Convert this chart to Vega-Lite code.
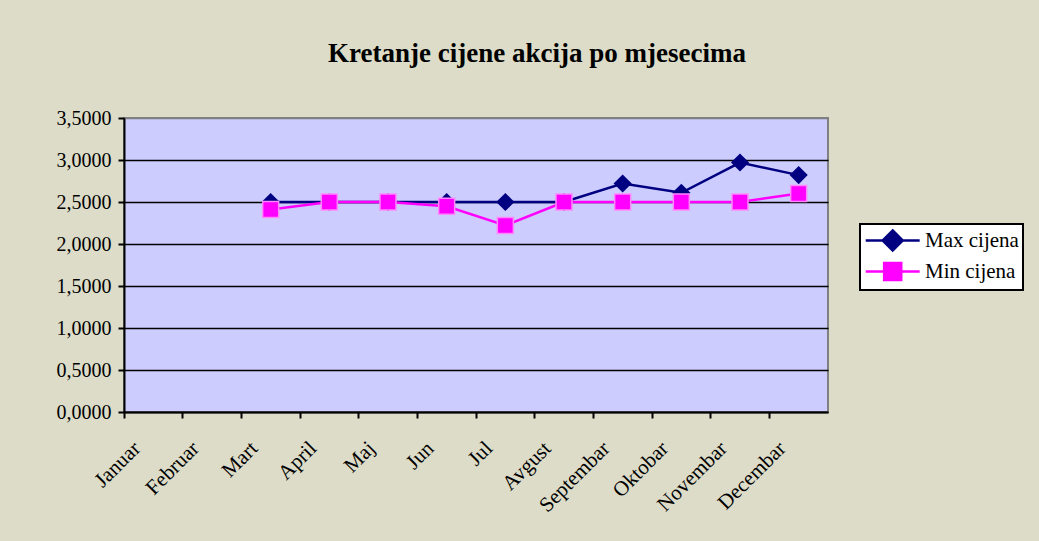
{
  "$schema": "https://vega.github.io/schema/vega-lite/v6.json",
  "autosize": "none",
  "width": 704,
  "height": 294,
  "padding": {"left": 124, "top": 118, "right": 211, "bottom": 129},
  "background": "#DCDCC8",
  "title": {
    "text": "Kretanje cijene akcija po mjesecima",
    "font": "Liberation Serif",
    "fontSize": 27,
    "fontWeight": "bold",
    "color": "#000000",
    "frame": "group",
    "anchor": "middle",
    "dx": 61,
    "offset": 19,
    "baseline": "alphabetic"
  },
  "config": {
    "view": {"fill": "#CCCCFF", "stroke": "#808080", "strokeWidth": 2},
    "axis": {"labelFont": "Liberation Serif", "labelFontSize": 20, "labelColor": "#000000"},
    "legend": {"labelFont": "Liberation Serif", "labelFontSize": 21, "labelColor": "#000000"}
  },
  "data": {
    "values": [
      {"month": "Mart", "series": "Max cijena", "value": 2.5},
      {"month": "April", "series": "Max cijena", "value": 2.5},
      {"month": "Maj", "series": "Max cijena", "value": 2.5},
      {"month": "Jun", "series": "Max cijena", "value": 2.5},
      {"month": "Jul", "series": "Max cijena", "value": 2.5},
      {"month": "Avgust", "series": "Max cijena", "value": 2.5},
      {"month": "Septembar", "series": "Max cijena", "value": 2.72},
      {"month": "Oktobar", "series": "Max cijena", "value": 2.61},
      {"month": "Novembar", "series": "Max cijena", "value": 2.97},
      {"month": "Decembar", "series": "Max cijena", "value": 2.82},
      {"month": "Mart", "series": "Min cijena", "value": 2.41},
      {"month": "April", "series": "Min cijena", "value": 2.5},
      {"month": "Maj", "series": "Min cijena", "value": 2.5},
      {"month": "Jun", "series": "Min cijena", "value": 2.45},
      {"month": "Jul", "series": "Min cijena", "value": 2.22},
      {"month": "Avgust", "series": "Min cijena", "value": 2.5},
      {"month": "Septembar", "series": "Min cijena", "value": 2.5},
      {"month": "Oktobar", "series": "Min cijena", "value": 2.5},
      {"month": "Novembar", "series": "Min cijena", "value": 2.5},
      {"month": "Decembar", "series": "Min cijena", "value": 2.6}
    ]
  },
  "encoding": {
    "x": {
      "field": "month",
      "type": "nominal",
      "bandPosition": 0.5,
      "sort": ["Januar", "Februar", "Mart", "April", "Maj", "Jun", "Jul", "Avgust", "Septembar", "Oktobar", "Novembar", "Decembar"],
      "scale": {
        "type": "band",
        "domain": ["Januar", "Februar", "Mart", "April", "Maj", "Jun", "Jul", "Avgust", "Septembar", "Oktobar", "Novembar", "Decembar"],
        "paddingInner": 0,
        "paddingOuter": 0
      },
      "axis": {
        "title": null,
        "bandPosition": 0,
        "labelAngle": -45,
        "labelAlign": "right",
        "labelBaseline": "middle",
        "labelOffset": -16,
        "labelPadding": 27,
        "labelFontSize": 21,
        "tickSize": 6,
        "tickWidth": 2,
        "tickColor": "#000000",
        "domainColor": "#000000",
        "domainWidth": 2,
        "grid": false
      }
    },
    "y": {
      "field": "value",
      "type": "quantitative",
      "scale": {"domain": [0, 3.5], "nice": false, "zero": true},
      "axis": {
        "title": null,
        "values": [0, 0.5, 1, 1.5, 2, 2.5, 3, 3.5],
        "labelExpr": "replace(format(datum.value, '.4f'), '.', ',')",
        "labelPadding": 7,
        "tickSize": 6,
        "tickWidth": 2,
        "tickColor": "#000000",
        "domainColor": "#000000",
        "domainWidth": 2,
        "grid": true,
        "gridColor": {"condition": {"test": "datum.value === 3.5", "value": "#808080"}, "value": "#000000"},
        "gridWidth": 1.5,
        "gridOpacity": 1
      }
    },
    "color": {
      "field": "series",
      "type": "nominal",
      "scale": {"domain": ["Max cijena", "Min cijena"], "range": ["#000080", "#FF00FF"]},
      "legend": {
        "title": null,
        "orient": "none",
        "legendX": 736,
        "legendY": 106,
        "fillColor": "#FFFFFF",
        "strokeColor": "#000000",
        "padding": 4,
        "rowPadding": 1,
        "symbolSize": 466,
        "labelOffset": 36,
        "encode": {
          "legend": {"update": {"strokeWidth": {"value": 2}}},
          "symbols": {
            "update": {
              "shape": {"signal": "datum.value === 'Max cijena' ? 'M-1,0H4M1.5,-0.93L2.43,0L1.5,0.93L0.57,0Z' : 'M-1,0H4M0.71,-0.79H2.29V0.79H0.71Z'"},
              "size": {"value": 466},
              "fill": {"scale": "color", "field": "value"},
              "stroke": {"scale": "color", "field": "value"},
              "strokeWidth": {"value": 2.5},
              "opacity": {"value": 1},
              "fillOpacity": {"value": 1}
            }
          }
        }
      }
    }
  },
  "layer": [
    {
      "transform": [{"filter": "datum.series === 'Max cijena'"}],
      "mark": {"type": "line", "strokeWidth": 2.5}
    },
    {
      "transform": [{"filter": "datum.series === 'Max cijena'"}],
      "mark": {"type": "point", "shape": "diamond", "filled": true, "size": 330, "opacity": 1}
    },
    {
      "transform": [{"filter": "datum.series === 'Min cijena'"}],
      "mark": {"type": "line", "strokeWidth": 2.5}
    },
    {
      "transform": [{"filter": "datum.series === 'Min cijena'"}],
      "mark": {"type": "point", "shape": "square", "filled": true, "size": 256, "opacity": 1, "stroke": "#FF88FF", "strokeWidth": 1.5}
    }
  ]
}
